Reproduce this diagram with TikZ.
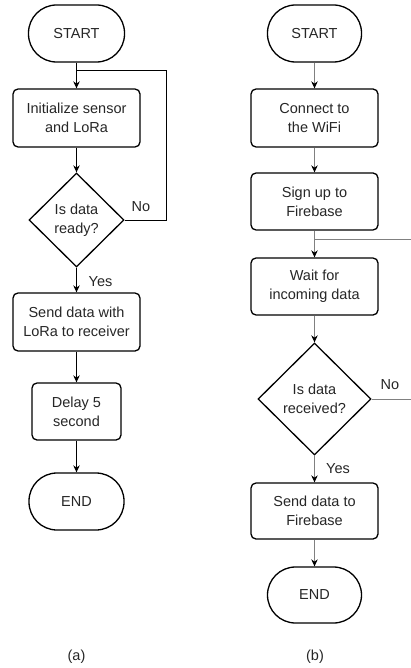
\documentclass[tikz,border=0pt]{standalone}
\usepackage{fontspec}
\setmainfont{Liberation Sans}
\usetikzlibrary{shapes.geometric,arrows.meta}
\begin{document}
\begin{tikzpicture}[x=1pt,y=-1pt,
 every node/.style={font=\fontsize{14.5}{19}\selectfont, text=black!85},
 box/.style={draw=black, line width=1.3pt, rounded corners=5pt, align=center, inner sep=0pt},
 term/.style={draw=black, line width=1.3pt, rounded corners=28pt, align=center, inner sep=0pt},
 dec/.style={diamond, draw=black, line width=1.3pt, align=center, inner sep=0pt},
 conn/.style={line width=1pt, draw=black},
 arr/.style={conn, -{Stealth[length=7pt,width=6.5pt]}},
 gconn/.style={line width=1pt, draw=black!50},
 garr/.style={gconn, -{Stealth[length=7pt,width=6.5pt,color=black]}}
]
\useasboundingbox (0,0) rectangle (411,668);

% (a)
\node[term, minimum width=96pt, minimum height=57pt] (sa) at (76.5,33.5) {START};
\node[box, minimum width=127pt, minimum height=58pt] (ia) at (76.5,118) {Initialize sensor\\and LoRa};
\node[dec, minimum width=95pt, minimum height=94pt] (da) at (76.5,220) {Is data\\ready?};
\node[box, minimum width=127pt, minimum height=58pt] (sda) at (76.5,322) {Send data with\\LoRa to receiver};
\node[box, minimum width=89pt, minimum height=57pt] (dla) at (76.5,411.5) {Delay 5\\second};
\node[term, minimum width=95pt, minimum height=57pt] (ea) at (76.5,501.5) {END};
\node (la) at (76.5,657) {(a)};
\node (noa) at (141,207) {No};
\node (yesa) at (100.5,282) {Yes};

\coordinate (ja) at (76.5,70.7);
\coordinate (ca1) at (166,220);
\coordinate (ca2) at (166,70.7);
\draw[arr] (sa) -- (ia);
\draw[arr] (ia) -- (da);
\draw[arr] (da) -- (sda);
\draw[arr] (sda) -- (dla);
\draw[arr] (dla) -- (ea);
\draw[conn] (da.east) -- (ca1) -- (ca2) -- (ja);

% (b)
\node[term, minimum width=94pt, minimum height=57pt] (sb) at (314.5,33.5) {START};
\node[box, minimum width=127pt, minimum height=58pt] (cb) at (314.5,118) {Connect to\\the WiFi};
\node[box, minimum width=127pt, minimum height=57pt] (sub) at (314.5,201.5) {Sign up to\\Firebase};
\node[box, minimum width=127pt, minimum height=57pt] (wb) at (314.5,286.5) {Wait for\\incoming data};
\node[dec, minimum width=113pt, minimum height=112pt] (db) at (314.5,399) {Is data\\received?};
\node[box, minimum width=127pt, minimum height=56pt] (fb) at (314.5,511) {Send data to\\Firebase};
\node[term, minimum width=94pt, minimum height=56pt] (eb) at (314.5,595) {END};
\node (lb) at (315,657) {(b)};
\node (nob) at (390,385) {No};
\node (yesb) at (338,468.5) {Yes};

\coordinate (jb) at (314.5,239.3);
\coordinate (cb2) at (411,239.3);
\coordinate (cb1) at (411,399);
\draw[garr] (sb) -- (cb);
\draw[garr] (cb) -- (sub);
\draw[garr] (sub) -- (wb);
\draw[garr] (wb) -- (db);
\draw[garr] (db) -- (fb);
\draw[garr] (fb) -- (eb);
\draw[gconn] (db.east) -- (cb1);
\draw[gconn] (cb2) -- (jb);
\end{tikzpicture}
\end{document}
